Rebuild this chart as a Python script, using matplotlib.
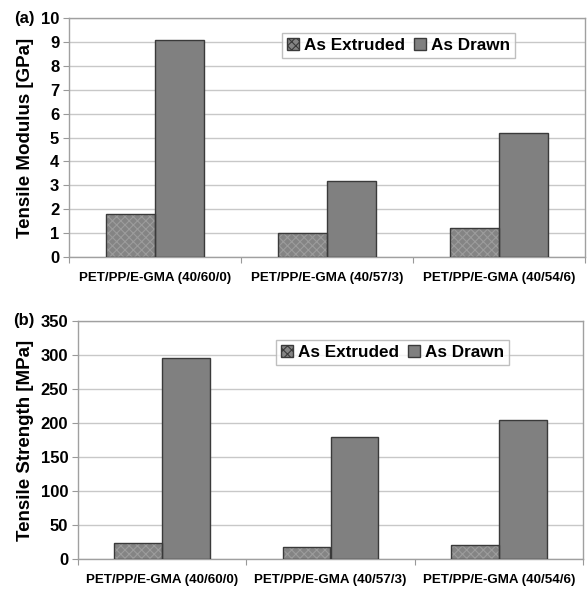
import numpy as np
import matplotlib
matplotlib.use("Agg")
import matplotlib.pyplot as plt
from matplotlib.patches import Patch

plt.rcParams['font.family'] = ['Liberation Sans', 'DejaVu Sans']
plt.rcParams['font.weight'] = 'bold'
plt.rcParams['hatch.linewidth'] = 0.8

categories = ['PET/PP/E-GMA (40/60/0)', 'PET/PP/E-GMA (40/57/3)', 'PET/PP/E-GMA (40/54/6)']
series = ['As Extruded', 'As Drawn']
modulus_extruded = [1.8, 1.0, 1.2]
modulus_drawn = [9.1, 3.2, 5.2]
strength_extruded = [24, 18, 20]
strength_drawn = [295, 180, 205]

BAR_FACE = '#808080'
HATCH_FACE = '#848484'
HATCH_LINE = '#9c9c9c'
EDGE = '#3a3a3a'
GRID = '#c8c8c8'


def draw_panel(ax, extruded, drawn, ymax, ystep, ylabel, tag, tag_x, legend_box):
    x = np.arange(len(categories))
    w = 0.285
    # hatched extruded bars: fill + hatch layer, then outline
    ax.bar(x - w / 2, extruded, w, color=HATCH_FACE, edgecolor=HATCH_LINE,
           hatch='xxxx', linewidth=0, zorder=3)
    ax.bar(x - w / 2, extruded, w, fill=False, edgecolor=EDGE, linewidth=1.0, zorder=4)
    ax.bar(x + w / 2, drawn, w, color=BAR_FACE, edgecolor=EDGE, linewidth=1.0, zorder=3)

    ax.set_xlim(-0.5, len(categories) - 0.5)
    ax.set_ylim(0, ymax)
    ax.set_yticks(np.arange(0, ymax + ystep / 2, ystep))
    ax.yaxis.grid(True, color=GRID, linewidth=1.0, zorder=0)
    ax.set_axisbelow(True)

    # category boundaries as ticks, labels at centres
    ax.set_xticks(np.arange(-0.5, len(categories), 1.0))
    ax.set_xticklabels([])
    ax.set_xticks(x, minor=True)
    ax.set_xticklabels(categories, minor=True, fontsize=9.6, fontweight='bold')
    ax.tick_params(axis='x', which='minor', length=0, pad=11)
    ax.tick_params(axis='x', which='major', length=4, color='#999999', direction='out')
    ax.tick_params(axis='y', length=4, color='#999999', labelsize=12, pad=3)
    for lbl in ax.get_yticklabels():
        lbl.set_fontweight('bold')

    for s in ax.spines.values():
        s.set_color('#a0a0a0')
        s.set_linewidth(1.0)

    ax.set_ylabel(ylabel, fontsize=13.5, fontweight='bold', labelpad=5)
    ax.text(tag_x, 1.0, tag, transform=ax.transAxes, fontsize=12,
            fontweight='bold', ha='center', va='center')

    handles = [Patch(facecolor=HATCH_FACE, edgecolor=EDGE, hatch='xxxx'),
               Patch(facecolor=BAR_FACE, edgecolor=EDGE)]
    leg = ax.legend(handles, series, loc='upper left', bbox_to_anchor=legend_box,
                    ncol=2, frameon=True, fancybox=False, fontsize=12.3,
                    handlelength=0.7, handleheight=0.7, handletextpad=0.3,
                    columnspacing=0.5, borderpad=0.3, borderaxespad=0)
    leg.get_frame().set_edgecolor('#b0b0b0')
    leg.get_frame().set_linewidth(1.0)
    for t in leg.get_texts():
        t.set_fontweight('bold')


fig = plt.figure(figsize=(5.87, 5.90), dpi=100)
W, H = 587, 590
ax1 = fig.add_axes([69 / W, 1 - 257 / H, (585 - 69) / W, (257 - 18) / H])
ax2 = fig.add_axes([78 / W, 1 - 559 / H, (583 - 78) / W, (559 - 321) / H])

draw_panel(ax1, modulus_extruded, modulus_drawn, 10, 1, 'Tensile Modulus [GPa]', '(a)',
           (24 - 69) / (585 - 69),
           ((282 - 69) / (585 - 69), 1 - (33 - 18) / (257 - 18)))
draw_panel(ax2, strength_extruded, strength_drawn, 350, 50, 'Tensile Strength [MPa]', '(b)',
           (24 - 78) / (583 - 78),
           ((276 - 78) / (583 - 78), 1 - (340 - 321) / (559 - 321)))

fig.savefig('out.png', dpi=100)
